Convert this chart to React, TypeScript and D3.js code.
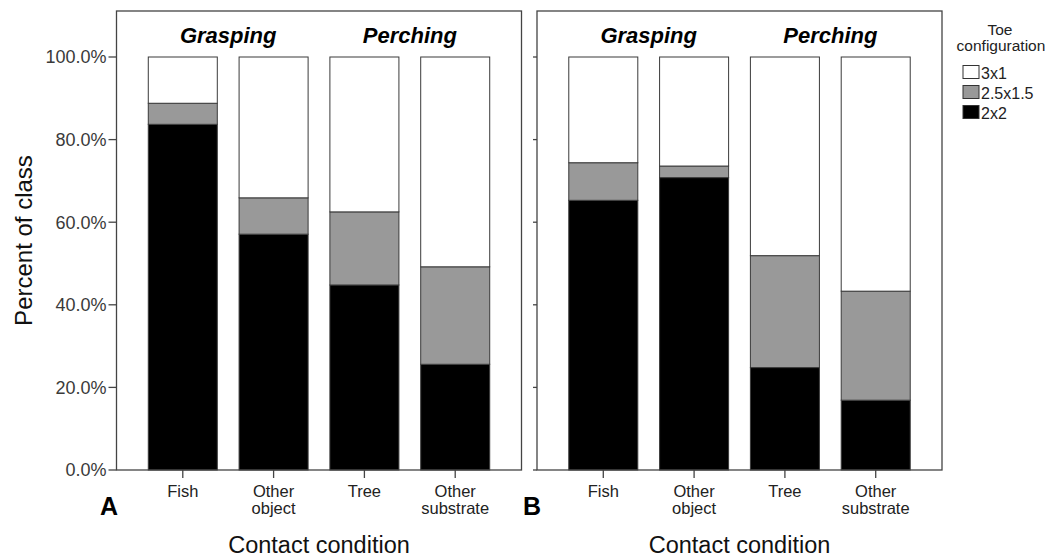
import React from "react";
import * as d3 from "d3";

const categories = ["Fish", "Other object", "Tree", "Other substrate"];
const categoryLines: string[][] = [["Fish"], ["Other", "object"], ["Tree"], ["Other", "substrate"]];
const groups = [
  { label: "Grasping", members: ["Fish", "Other object"] },
  { label: "Perching", members: ["Tree", "Other substrate"] },
];
const keys = ["2x2", "2.5x1.5", "3x1"];
const legendOrder = ["3x1", "2.5x1.5", "2x2"];
const fills: Record<string, string> = { "2x2": "#000000", "2.5x1.5": "#999999", "3x1": "#ffffff" };

// Panel A values (percent of class)
const a2x2 = [83.7, 57.1, 44.8, 25.6];
const a25x15 = [5.1, 8.8, 17.7, 23.6];
const a3x1 = [11.2, 34.1, 37.5, 50.8];
// Panel B values
const b2x2 = [65.3, 70.8, 24.8, 16.9];
const b25x15 = [9.1, 2.8, 27.1, 26.4];
const b3x1 = [25.6, 26.4, 48.1, 56.7];

const yTicks = [0, 20, 40, 60, 80, 100];

const W = 1062, H = 557;
const TOP = 11, BOTTOM = 470;
const y = d3.scaleLinear().domain([0, 100]).range([BOTTOM, 57]);

function buildRows(v1: number[], v2: number[], v3: number[]) {
  return categories.map((c, i) => ({ cat: c, "2x2": v1[i], "2.5x1.5": v2[i], "3x1": v3[i] }));
}

const panels = [
  { id: "A", x0: 116.5, x1: 521.5, rows: buildRows(a2x2, a25x15, a3x1), showLabels: true, tickLen: 8, letterX: 100 },
  { id: "B", x0: 537, x1: 942, rows: buildRows(b2x2, b25x15, b3x1), showLabels: false, tickLen: 4, letterX: 523 },
];

const font = "Arial, 'Liberation Sans', sans-serif";

function Panel({ p }: { p: typeof panels[number] }) {
  const x = d3.scaleBand<string>().domain(categories).range([p.x0, p.x1]).paddingInner(0.24).paddingOuter(0.35);
  const stack = d3.stack<any>().keys(keys);
  const series = stack(p.rows as any);
  const bw = x.bandwidth();
  return (
    <g>
      {series.map((s) => (
        <g key={s.key}>
          {s.map((d, i) => (
            <rect
              key={i}
              x={x(categories[i])}
              y={y(d[1])}
              width={bw}
              height={y(d[0]) - y(d[1])}
              fill={fills[s.key]}
              stroke="#3a3a3a"
              strokeWidth={1}
            />
          ))}
        </g>
      ))}
      <rect x={p.x0} y={TOP} width={p.x1 - p.x0} height={BOTTOM - TOP} fill="none" stroke="#444" strokeWidth={1.3} />
      {yTicks.map((t) => (
        <g key={t}>
          <line x1={p.x0 - p.tickLen} x2={p.x0} y1={y(t)} y2={y(t)} stroke="#444" strokeWidth={1.3} />
          {p.showLabels && (
            <text x={p.x0 - p.tickLen - 2} y={y(t)} dy="0.35em" textAnchor="end" fontSize={18} fill="#3a3a3a" fontFamily={font}>
              {t.toFixed(1)}%
            </text>
          )}
        </g>
      ))}
      {categories.map((c, i) => {
        const cx = (x(c) as number) + bw / 2;
        return (
          <g key={c}>
            <line x1={cx} x2={cx} y1={BOTTOM} y2={BOTTOM + 8} stroke="#444" strokeWidth={1.3} />
            {categoryLines[i].map((ln, j) => (
              <text key={j} x={cx} y={497 + j * 17} textAnchor="middle" fontSize={16.5} fill="#222" fontFamily={font}>
                {ln}
              </text>
            ))}
          </g>
        );
      })}
      {groups.map((g) => {
        const cxs = g.members.map((m) => (x(m) as number) + bw / 2);
        const cx = d3.mean(cxs) as number;
        return (
          <text key={g.label} x={cx} y={43} textAnchor="middle" fontSize={22} fontWeight="bold" fontStyle="italic" fontFamily={font} fill="#000">
            {g.label}
          </text>
        );
      })}
      <text x={(p.x0 + p.x1) / 2} y={553} textAnchor="middle" fontSize={23.5} fill="#111" fontFamily={font}>
        Contact condition
      </text>
      <text x={p.letterX} y={515} fontSize={25} fontWeight="bold" fontFamily={font} fill="#000">
        {p.id}
      </text>
    </g>
  );
}

export default function App() {
  return (
    <svg width={W} height={H} style={{ position: "absolute", left: 0, top: 0, background: "#fff" }}>
      <rect x={0} y={0} width={W} height={H} fill="#fff" />
      {panels.map((p) => (
        <Panel key={p.id} p={p} />
      ))}
      <text transform={`translate(32, ${(TOP + BOTTOM) / 2}) rotate(-90)`} textAnchor="middle" fontSize={24} fill="#111" fontFamily={font}>
        Percent of class
      </text>
      <g fontFamily={font}>
        <text x={1000} y={35} textAnchor="middle" fontSize={15.5} fill="#222">Toe</text>
        <text x={1001} y={50.5} textAnchor="middle" fontSize={15.5} fill="#222">configuration</text>
        {legendOrder.map((k, i) => (
          <g key={k}>
            <rect x={963} y={65.5 + i * 20} width={16} height={13} fill={fills[k]} stroke="#333" strokeWidth={1} />
            <text x={981} y={78.5 + i * 20} fontSize={16} fill="#222">{k}</text>
          </g>
        ))}
      </g>
    </svg>
  );
}
